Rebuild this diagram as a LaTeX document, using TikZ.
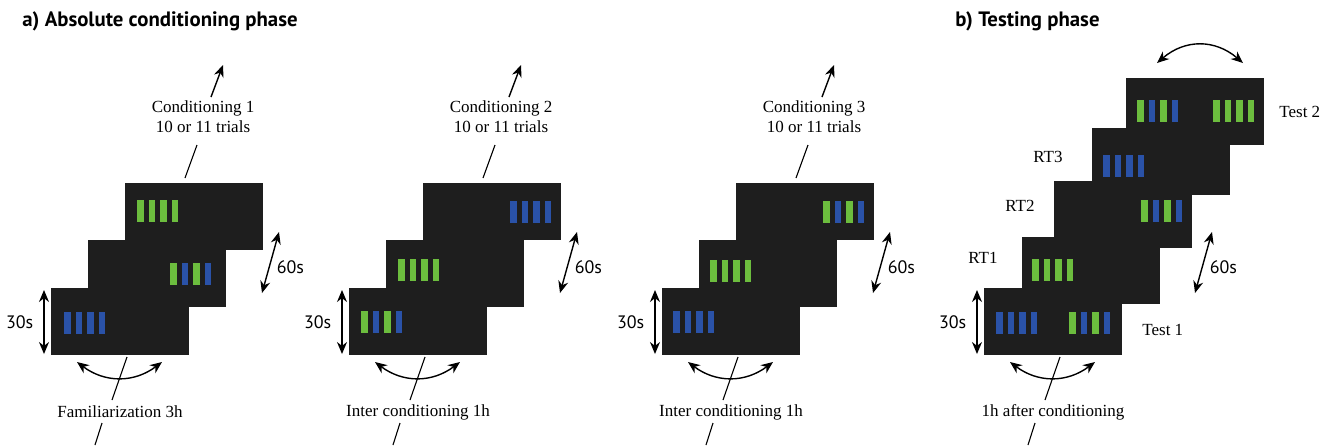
\documentclass[tikz,border=0pt]{standalone}
\usepackage{fontspec}
\setmainfont{Liberation Serif}
\setsansfont{PT Sans}
\usepackage{tikz}
\usetikzlibrary{arrows.meta,positioning}
\definecolor{scr}{RGB}{30,30,30}
\definecolor{gr}{RGB}{108,189,62}
\definecolor{bl}{RGB}{42,82,168}
\newcommand{\stimbars}[3]{%
  \foreach \col [count=\kk from 0] in {#3}
    \fill[\col] (#1+\kk*11.5,#2) rectangle ++(6.5,22);}

\begin{document}
\begin{tikzpicture}[x=0.5pt,y=-0.5pt,font=\fontsize{8.5}{10}\selectfont,
      screen/.style={fill=scr,inner sep=0pt,anchor=north west,minimum width=69pt,minimum height=33.5pt},
      dbl/.style={{Stealth[length=6pt,width=5pt]}-{Stealth[length=6pt,width=5pt]},line width=0.7pt},
      up/.style={-{Stealth[length=6pt,width=5pt]},line width=0.7pt},
      tick/.style={line width=0.55pt},
      lbl/.style={inner sep=0pt,align=center},
      dur/.style={inner sep=0pt,font=\sffamily\fontsize{9}{10}\selectfont},
      ttl/.style={inner sep=0pt,anchor=base west,font=\sffamily\bfseries\fontsize{10.4}{12}\selectfont}]
    \useasboundingbox (0,0) rectangle (1335,447);
    % titles
    \node[ttl] (ta) at (22,26) {a) Absolute conditioning phase};
    \node[ttl] (tb) at (955,26) {b) Testing phase};
    % back screens of the conditioning phase
    \foreach \dx/\i/\h in {0/1/33.5pt,298/2/28.5pt,611/3/28.5pt}{
      \node[screen,minimum height=\h] (T\i) at (125+\dx,183) {};
      \node[screen] (M\i) at (88+\dx,240) {};
    }
    % back screens of the testing phase
    \node[screen] (te2) at (1126,78) {};
    \node[screen] (rt3) at (1092,128) {};
    \node[screen] (rt2) at (1054,181) {};
    \node[screen] (rt1) at (1022,237) {};
    % front screens, durations and time line
    \foreach \dx/\i/\txt in {0/1/Familiarization 3h,298/2/Inter conditioning 1h,
                             611/3/Inter conditioning 1h,933/4/1h after conditioning}{
      \node[screen] (F\i) at (51+\dx,288) {};
      \coordinate (s\i) at (44+\dx,290); \coordinate (e\i) at (44+\dx,354);
      \draw[dbl] (s\i) -- node[dur,left=5pt] (d30\i) {30s} (e\i);
      \coordinate (v\i) at (262+\dx,293); \coordinate (u\i) at (279+\dx,232);
      \draw[dbl] (v\i) -- node[dur,pos=0.42,right=3.5pt] (d60\i) {60s} (u\i);
      \coordinate (cl\i) at (77+\dx,362); \coordinate (cr\i) at (162+\dx,362);
      \draw[dbl] (cl\i) .. controls (105+\dx,383) and (134+\dx,383) .. (cr\i);
      \node[lbl] (B\i) at (120+\dx,412) {\txt};
      \coordinate (g\i) at (127+\dx,357); \coordinate (h\i) at (112+\dx,400);
      \draw[tick] (g\i) -- (h\i);
      \coordinate (j\i) at (102+\dx,423); \coordinate (k\i) at (95+\dx,445);
      \draw[tick] (j\i) -- (k\i);
    }
    % conditioning labels
    \foreach \dx/\i in {0/1,298/2,611/3}{
      \node[lbl] (C\i) at (203+\dx,117) {Conditioning \i\\10 or 11 trials};
      \coordinate (p\i) at (197+\dx,145); \coordinate (q\i) at (185+\dx,178);
      \draw[tick] (p\i) -- (q\i);
      \coordinate (m\i) at (211+\dx,97); \coordinate (n\i) at (223+\dx,65);
      \draw[up] (m\i) -- (n\i);
    }
    % testing labels
    \node[lbl,anchor=west] (L2) at (1279,112) {Test 2};
    \node[lbl,anchor=west] (L1) at (1142,330) {Test 1};
    \node[lbl] (R3) at (1048,157) {RT3};
    \node[lbl] (R2) at (1020,206) {RT2};
    \node[lbl] (R1) at (983,258) {RT1};
    \coordinate (wl) at (1157,63); \coordinate (wr) at (1243,63);
    \draw[dbl] (wl) .. controls (1185,39) and (1215,39) .. (wr);
    % stimuli
    \stimbars{64}{312}{bl,bl,bl,bl}
    \stimbars{170}{263}{gr,bl,gr,bl}
    \stimbars{137}{200}{gr,gr,gr,gr}
    \stimbars{361}{311}{gr,bl,gr,bl}
    \stimbars{398}{259}{gr,gr,gr,gr}
    \stimbars{510}{201}{bl,bl,bl,bl}
    \stimbars{673}{311}{bl,bl,bl,bl}
    \stimbars{710}{260}{gr,gr,gr,gr}
    \stimbars{823}{201}{gr,bl,gr,bl}
    \stimbars{996}{312}{bl,bl,bl,bl}
    \stimbars{1069}{312}{gr,bl,gr,bl}
    \stimbars{1032}{259}{gr,gr,gr,gr}
    \stimbars{1141}{200}{gr,bl,gr,bl}
    \stimbars{1103}{155}{bl,bl,bl,bl}
    \stimbars{1137}{100}{gr,bl,gr,bl}
    \stimbars{1213}{100}{gr,gr,gr,gr}
  \end{tikzpicture}
\end{document}
